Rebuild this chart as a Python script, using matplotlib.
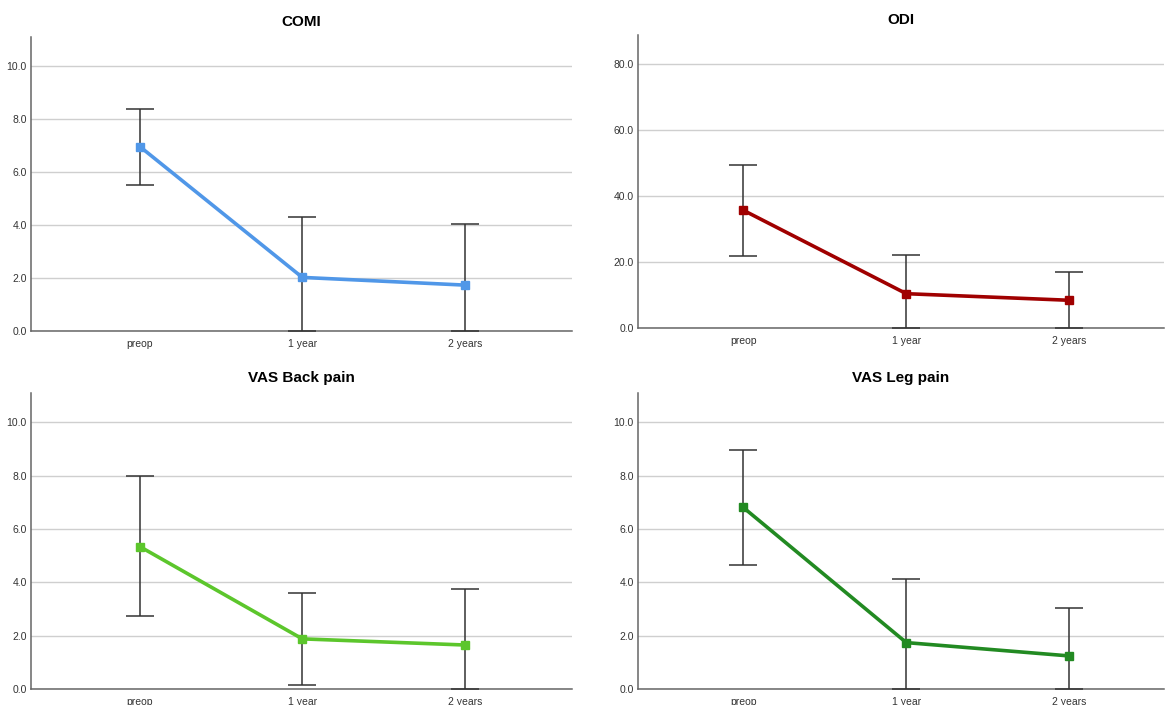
import matplotlib
matplotlib.use("Agg")
import matplotlib.pyplot as plt

# --- datos ---
categorias = ["preop", "1 year", "2 years"]

comi_media = [6.95, 2.02, 1.73]
comi_bajo = [5.51, 0.0, 0.0]
comi_alto = [8.38, 4.30, 4.03]

odi_media = [35.7, 10.4, 8.4]
odi_bajo = [21.8, 0.0, 0.0]
odi_alto = [49.5, 22.0, 17.1]

back_media = [5.34, 1.88, 1.65]
back_bajo = [2.72, 0.15, 0.0]
back_alto = [7.97, 3.60, 3.75]

leg_media = [6.81, 1.74, 1.24]
leg_bajo = [4.64, 0.0, 0.0]
leg_alto = [8.96, 4.11, 3.03]

plt.rcParams['font.family'] = ['Liberation Sans', 'DejaVu Sans']

W, H = 1166, 705
fig = plt.figure(figsize=(W / 100, H / 100), dpi=100)


def panel(caja, titulo, media, bajo, alto, color, ymax, ticks, xlim):
    # caja en pixeles: izquierda, derecha, arriba, abajo
    izq, der, arr, aba = caja
    ax = fig.add_axes([izq / W, (H - aba) / H, (der - izq) / W, (aba - arr) / H])
    x = list(range(len(categorias)))
    err = [[m - b for m, b in zip(media, bajo)], [a - m for m, a in zip(media, alto)]]
    ax.errorbar(x, media, yerr=err, fmt="none", ecolor="#333333", elinewidth=1.1,
                capsize=10, capthick=1.1, zorder=3)
    ax.plot(x, media, color=color, linewidth=2.6, marker="s", markersize=6, zorder=4)
    ax.set_ylim(0, ymax)
    ax.set_xlim(*xlim)
    ax.set_yticks(ticks)
    ax.set_yticklabels([f"{t:.1f}" for t in ticks])
    ax.set_xticks(x)
    ax.set_xticklabels(categorias)
    ax.grid(axis="y", color="#cfcfcf", linewidth=1.0)
    ax.set_axisbelow(True)
    for lado in ["top", "right"]:
        ax.spines[lado].set_visible(False)
    for lado in ["left", "bottom"]:
        ax.spines[lado].set_color("#666666")
        ax.spines[lado].set_linewidth(1.1)
    ax.tick_params(axis="both", length=0, labelsize=7.5, labelcolor="#333333")
    ax.tick_params(axis="y", pad=3)
    ax.tick_params(axis="x", pad=6)
    ax.set_title(titulo, fontsize=11, fontweight="bold", pad=8)
    return ax


vas_ticks = [0, 2, 4, 6, 8, 10]
panel((31, 572, 37, 331), "COMI", comi_media, comi_bajo, comi_alto, "#5097e8",
      11.08, vas_ticks, (-0.67, 2.66))
panel((638, 1164, 35, 328), "ODI", odi_media, odi_bajo, odi_alto, "#a00000",
      88.8, [0, 20, 40, 60, 80], (-0.645, 2.58))
panel((31, 572, 393, 689), "VAS Back pain", back_media, back_bajo, back_alto, "#5cc62c",
      11.1, vas_ticks, (-0.67, 2.66))
panel((638, 1164, 393, 689), "VAS Leg pain", leg_media, leg_bajo, leg_alto, "#228a22",
      11.1, vas_ticks, (-0.645, 2.58))

fig.savefig("out.png", dpi=100, facecolor="white")
